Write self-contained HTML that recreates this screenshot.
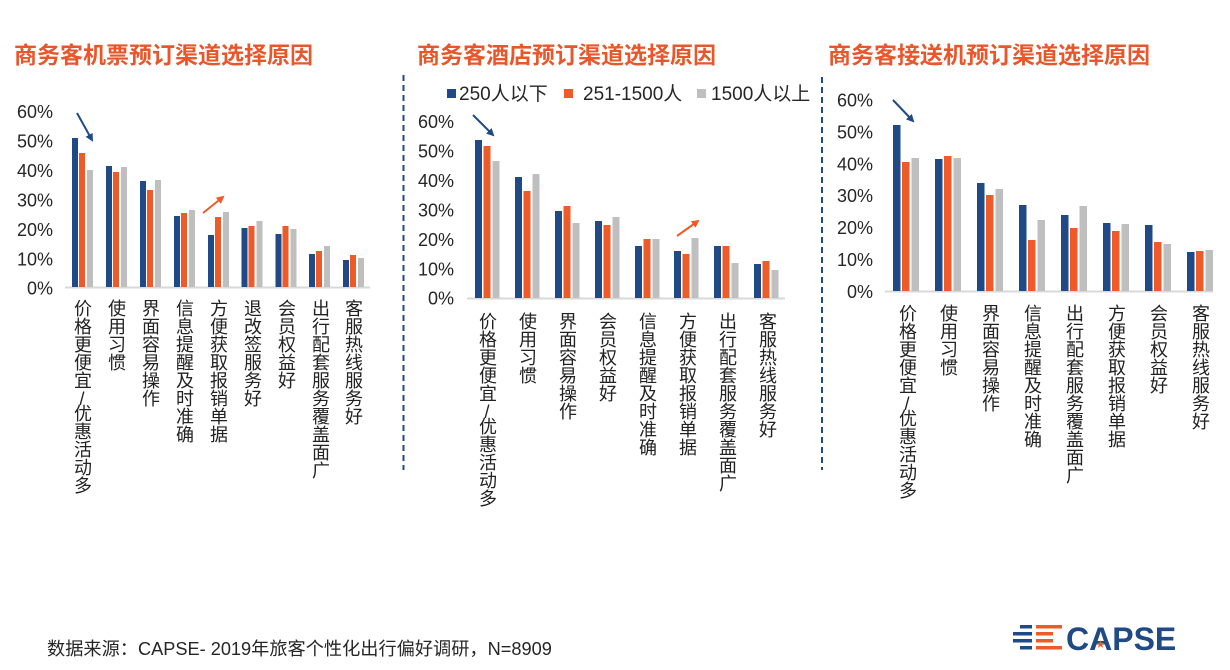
<!DOCTYPE html>
<html><head><meta charset="utf-8">
<style>
html,body{margin:0;padding:0;background:#fff;}
#wrap{position:relative;width:1230px;height:670px;overflow:hidden;background:#fff;font-family:"Liberation Sans","Noto Sans CJK SC",sans-serif;}
svg{position:absolute;left:0;top:0;}
.vl{position:absolute;writing-mode:vertical-rl;text-orientation:upright;font-size:18px;line-height:18px;width:18px;color:#222;font-family:"Liberation Sans","Noto Sans CJK SC",sans-serif;white-space:nowrap;}
.sl{letter-spacing:-5px;}
</style></head><body><div id="wrap">
<svg width="1230" height="670" viewBox="0 0 1230 670" xmlns="http://www.w3.org/2000/svg" font-family="Liberation Sans, Noto Sans CJK SC, sans-serif">
<defs>
<marker id="mb" markerWidth="8" markerHeight="8" refX="6" refY="4" orient="auto" markerUnits="userSpaceOnUse"><path d="M0,0 L8,4 L0,8 Z" fill="#1F4A86"/></marker>
<marker id="mo" markerWidth="8" markerHeight="8" refX="6" refY="4" orient="auto" markerUnits="userSpaceOnUse"><path d="M0,0 L8,4 L0,8 Z" fill="#EE5A28"/></marker>
</defs>
<!-- titles -->
<g font-family="Liberation Sans, Noto Sans CJK SC, sans-serif" font-weight="700" font-size="23" fill="#E8562A">
<text x="14" y="63">商务客机票预订渠道选择原因</text>
<text x="417" y="63">商务客酒店预订渠道选择原因</text>
<text x="828" y="63">商务客接送机预订渠道选择原因</text>
</g>
<!-- dashed separators -->
<line x1="403.5" y1="75" x2="403.5" y2="470" stroke="#1F4A86" stroke-width="2" stroke-dasharray="6 4"/>
<line x1="822" y1="77" x2="822" y2="470" stroke="#1F4A86" stroke-width="2" stroke-dasharray="6 4"/>
<!-- legend -->
<rect x="447" y="89" width="9" height="9" fill="#1F4A86"/>
<rect x="564" y="89" width="9" height="9" fill="#EE5A28"/>
<rect x="697" y="89" width="9" height="9" fill="#BFBFBF"/>
<g font-size="19" fill="#262626">
<text x="459" y="100">250人以下</text>
<text x="583" y="100">251-1500人</text>
<text x="711" y="100">1500人以上</text>
</g>
<!-- y labels -->
<g font-size="18" fill="#262626" text-anchor="end">
<text x="53" y="294.7">0%</text><text x="53" y="265.3">10%</text><text x="53" y="235.8">20%</text><text x="53" y="206.4">30%</text><text x="53" y="177">40%</text><text x="53" y="147.5">50%</text><text x="53" y="118.1">60%</text>
<text x="454" y="304.7">0%</text><text x="454" y="275.3">10%</text><text x="454" y="245.8">20%</text><text x="454" y="216.4">30%</text><text x="454" y="187">40%</text><text x="454" y="157.5">50%</text><text x="454" y="128.1">60%</text>
<text x="873" y="298.1">0%</text><text x="873" y="266.1">10%</text><text x="873" y="234.2">20%</text><text x="873" y="202.2">30%</text><text x="873" y="170.3">40%</text><text x="873" y="138.3">50%</text><text x="873" y="106.4">60%</text>
</g>
<!-- baselines -->
<rect x="65" y="286.5" width="305" height="2" fill="#D9D9D9"/>
<rect x="467" y="297.5" width="318" height="2" fill="#D9D9D9"/>
<rect x="885" y="290.5" width="328" height="2" fill="#D9D9D9"/>
<!-- left bars -->
<g>
<rect x="72" y="138" width="6" height="149" fill="#1F4A86"/><rect x="79" y="153" width="6" height="134" fill="#EE5A28"/><rect x="87" y="170" width="6" height="117" fill="#BFBFBF"/>
<rect x="106" y="166" width="6" height="121" fill="#1F4A86"/><rect x="113" y="172" width="6" height="115" fill="#EE5A28"/><rect x="121" y="167" width="6" height="120" fill="#BFBFBF"/>
<rect x="140" y="181" width="6" height="106" fill="#1F4A86"/><rect x="147" y="190" width="6" height="97" fill="#EE5A28"/><rect x="155" y="180" width="6" height="107" fill="#BFBFBF"/>
<rect x="174" y="216" width="6" height="71" fill="#1F4A86"/><rect x="181" y="213" width="6" height="74" fill="#EE5A28"/><rect x="189" y="210" width="6" height="77" fill="#BFBFBF"/>
<rect x="208" y="235" width="6" height="52" fill="#1F4A86"/><rect x="215" y="217" width="6" height="70" fill="#EE5A28"/><rect x="223" y="212" width="6" height="75" fill="#BFBFBF"/>
<rect x="241.5" y="228" width="6" height="59" fill="#1F4A86"/><rect x="248.5" y="226" width="6" height="61" fill="#EE5A28"/><rect x="256.5" y="221" width="6" height="66" fill="#BFBFBF"/>
<rect x="275.5" y="234" width="6" height="53" fill="#1F4A86"/><rect x="282.5" y="226" width="6" height="61" fill="#EE5A28"/><rect x="290.5" y="229" width="6" height="58" fill="#BFBFBF"/>
<rect x="309" y="254" width="6" height="33" fill="#1F4A86"/><rect x="316" y="251" width="6" height="36" fill="#EE5A28"/><rect x="324" y="246" width="6" height="41" fill="#BFBFBF"/>
<rect x="343" y="260" width="6" height="27" fill="#1F4A86"/><rect x="350" y="255" width="6" height="32" fill="#EE5A28"/><rect x="358" y="258" width="6" height="29" fill="#BFBFBF"/>
</g>
<!-- middle bars -->
<g>
<rect x="475" y="140" width="7" height="158" fill="#1F4A86"/><rect x="483.5" y="146" width="7" height="152" fill="#EE5A28"/><rect x="492.5" y="161" width="7" height="137" fill="#BFBFBF"/>
<rect x="515" y="177" width="7" height="121" fill="#1F4A86"/><rect x="523.5" y="191" width="7" height="107" fill="#EE5A28"/><rect x="532.5" y="174" width="7" height="124" fill="#BFBFBF"/>
<rect x="555" y="211" width="7" height="87" fill="#1F4A86"/><rect x="563.5" y="206" width="7" height="92" fill="#EE5A28"/><rect x="572.5" y="223" width="7" height="75" fill="#BFBFBF"/>
<rect x="595" y="221" width="7" height="77" fill="#1F4A86"/><rect x="603.5" y="225" width="7" height="73" fill="#EE5A28"/><rect x="612.5" y="217" width="7" height="81" fill="#BFBFBF"/>
<rect x="635" y="246" width="7" height="52" fill="#1F4A86"/><rect x="643.5" y="239" width="7" height="59" fill="#EE5A28"/><rect x="652.5" y="239" width="7" height="59" fill="#BFBFBF"/>
<rect x="674" y="251" width="7" height="47" fill="#1F4A86"/><rect x="682.5" y="254" width="7" height="44" fill="#EE5A28"/><rect x="691.5" y="238" width="7" height="60" fill="#BFBFBF"/>
<rect x="714" y="246" width="7" height="52" fill="#1F4A86"/><rect x="722.5" y="246" width="7" height="52" fill="#EE5A28"/><rect x="731.5" y="263" width="7" height="35" fill="#BFBFBF"/>
<rect x="754" y="264" width="7" height="34" fill="#1F4A86"/><rect x="762.5" y="261" width="7" height="37" fill="#EE5A28"/><rect x="771.5" y="270" width="7" height="28" fill="#BFBFBF"/>
</g>
<!-- right bars -->
<g>
<rect x="893" y="125" width="7.5" height="166" fill="#1F4A86"/><rect x="902" y="162" width="7.5" height="129" fill="#EE5A28"/><rect x="911.5" y="158" width="7.5" height="133" fill="#BFBFBF"/>
<rect x="935" y="159" width="7.5" height="132" fill="#1F4A86"/><rect x="944" y="156" width="7.5" height="135" fill="#EE5A28"/><rect x="953.5" y="158" width="7.5" height="133" fill="#BFBFBF"/>
<rect x="977" y="183" width="7.5" height="108" fill="#1F4A86"/><rect x="986" y="195" width="7.5" height="96" fill="#EE5A28"/><rect x="995.5" y="189" width="7.5" height="102" fill="#BFBFBF"/>
<rect x="1019" y="205" width="7.5" height="86" fill="#1F4A86"/><rect x="1028" y="240" width="7.5" height="51" fill="#EE5A28"/><rect x="1037.5" y="220" width="7.5" height="71" fill="#BFBFBF"/>
<rect x="1061" y="215" width="7.5" height="76" fill="#1F4A86"/><rect x="1070" y="228" width="7.5" height="63" fill="#EE5A28"/><rect x="1079.5" y="206" width="7.5" height="85" fill="#BFBFBF"/>
<rect x="1103" y="223" width="7.5" height="68" fill="#1F4A86"/><rect x="1112" y="231" width="7.5" height="60" fill="#EE5A28"/><rect x="1121.5" y="224" width="7.5" height="67" fill="#BFBFBF"/>
<rect x="1145" y="225" width="7.5" height="66" fill="#1F4A86"/><rect x="1154" y="242" width="7.5" height="49" fill="#EE5A28"/><rect x="1163.5" y="244" width="7.5" height="47" fill="#BFBFBF"/>
<rect x="1187" y="252" width="7.5" height="39" fill="#1F4A86"/><rect x="1196" y="251" width="7.5" height="40" fill="#EE5A28"/><rect x="1205.5" y="250" width="7.5" height="41" fill="#BFBFBF"/>
</g>
<!-- arrows -->
<line x1="77" y1="113" x2="92" y2="140" stroke="#1F4A86" stroke-width="2" marker-end="url(#mb)"/>
<line x1="203" y1="213" x2="223" y2="197" stroke="#EE5A28" stroke-width="2" marker-end="url(#mo)"/>
<line x1="473" y1="115" x2="493" y2="135" stroke="#1F4A86" stroke-width="2" marker-end="url(#mb)"/>
<line x1="677" y1="236" x2="698" y2="221" stroke="#EE5A28" stroke-width="2" marker-end="url(#mo)"/>
<line x1="893" y1="100" x2="913" y2="121" stroke="#1F4A86" stroke-width="2" marker-end="url(#mb)"/>
<!-- footer -->
<text x="47" y="655" font-size="18.2" fill="#262626">数据来源：CAPSE- 2019年旅客个性化出行偏好调研，N=8909</text>
<!-- logo -->
<g>
<rect x="1020" y="625" width="12" height="3.5" fill="#1F4A86"/><rect x="1036" y="625" width="26" height="3.5" fill="#EE5A28"/>
<rect x="1013" y="632" width="19" height="3.5" fill="#1F4A86"/><rect x="1036" y="632" width="17" height="3.5" fill="#EE5A28"/>
<rect x="1013" y="639" width="19" height="3.5" fill="#1F4A86"/><rect x="1036" y="639" width="17" height="3.5" fill="#EE5A28"/>
<rect x="1020" y="646" width="12" height="3.5" fill="#1F4A86"/><rect x="1036" y="646" width="26" height="3.5" fill="#EE5A28"/>
<text x="1066" y="650" font-size="32" font-weight="700" fill="#1F4A86" font-family="Liberation Sans, sans-serif">CAPSE</text>
<path d="M1100.5,640 L1101.6,643 L1104.6,643 L1102.2,644.8 L1103.1,647.8 L1100.5,646 L1097.9,647.8 L1098.8,644.8 L1096.4,643 L1099.4,643 Z" fill="#EE5A28"/>
</g>
</svg>
<!-- left x labels -->
<div class="vl" style="left:73px;top:299px;">价格更便宜<span class="sl">/</span>优惠活动多</div>
<div class="vl" style="left:107px;top:299px;">使用习惯</div>
<div class="vl" style="left:141px;top:299px;">界面容易操作</div>
<div class="vl" style="left:175px;top:299px;">信息提醒及时准确</div>
<div class="vl" style="left:209px;top:299px;">方便获取报销单据</div>
<div class="vl" style="left:243px;top:299px;">退改签服务好</div>
<div class="vl" style="left:277px;top:299px;">会员权益好</div>
<div class="vl" style="left:311px;top:299px;">出行配套服务覆盖面广</div>
<div class="vl" style="left:344px;top:299px;">客服热线服务好</div>
<!-- middle x labels -->
<div class="vl" style="left:478px;top:312px;">价格更便宜<span class="sl">/</span>优惠活动多</div>
<div class="vl" style="left:518px;top:312px;">使用习惯</div>
<div class="vl" style="left:558px;top:312px;">界面容易操作</div>
<div class="vl" style="left:598px;top:312px;">会员权益好</div>
<div class="vl" style="left:638px;top:312px;">信息提醒及时准确</div>
<div class="vl" style="left:678px;top:312px;">方便获取报销单据</div>
<div class="vl" style="left:718px;top:312px;">出行配套服务覆盖面广</div>
<div class="vl" style="left:758px;top:312px;">客服热线服务好</div>
<!-- right x labels -->
<div class="vl" style="left:898px;top:304px;">价格更便宜<span class="sl">/</span>优惠活动多</div>
<div class="vl" style="left:939px;top:304px;">使用习惯</div>
<div class="vl" style="left:981px;top:304px;">界面容易操作</div>
<div class="vl" style="left:1023px;top:304px;">信息提醒及时准确</div>
<div class="vl" style="left:1065px;top:304px;">出行配套服务覆盖面广</div>
<div class="vl" style="left:1107px;top:304px;">方便获取报销单据</div>
<div class="vl" style="left:1149px;top:304px;">会员权益好</div>
<div class="vl" style="left:1191px;top:304px;">客服热线服务好</div>
</div></body></html>
